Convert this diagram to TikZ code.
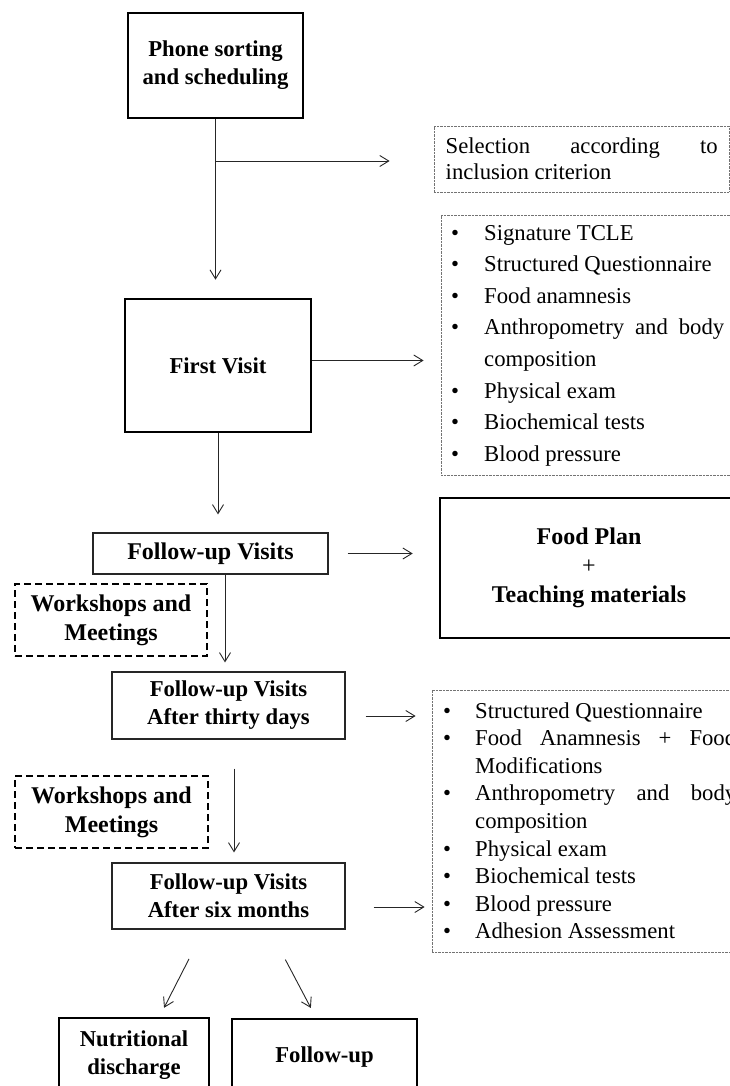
\documentclass[tikz,border=0pt]{standalone}
\usepackage{fontspec}
\setmainfont{Liberation Serif}
\usetikzlibrary{arrows.meta}

\tikzset{
  heavybox/.style={draw, line width=2.6pt, align=center, inner sep=0pt,
    font=\bfseries\fontsize{22.7}{28}\selectfont},
  thinbox/.style={draw=black!85, line width=1.1pt, align=center, inner sep=0pt,
    font=\bfseries\fontsize{22.7}{28}\selectfont},
  dashbox/.style={draw, line width=2.4pt, dash pattern=on 7pt off 4pt, align=center,
    inner sep=0pt, font=\bfseries\fontsize{24}{29}\selectfont},
  dotbox/.style={draw=black!55, line width=0.8pt, dash pattern=on 0.8pt off 0.6pt, inner sep=0pt},
  listline/.style={anchor=base west, inner sep=0pt, font=\fontsize{22.7}{27}\selectfont},
  flow/.style={->, line width=0.9pt, draw=black!85}
}

\begin{document}
\begin{tikzpicture}[x=1pt, y=-1pt, >={Straight Barb[length=9pt,width=11pt]}]
  \useasboundingbox (0,0) rectangle (730,1086);
  \clip (0,0) rectangle (730,1086);

  % main column
  \node[heavybox, minimum width=175pt, minimum height=105pt] (phone) at (215.5,65.5) {Phone sorting\\and scheduling};
  \node[heavybox, minimum width=186pt, minimum height=133pt] (first) at (218,365.5) {First Visit};
  \node[thinbox, minimum width=235pt, minimum height=41pt, font=\bfseries\fontsize{24}{28}\selectfont] (visits) at (210.5,553.5) {Follow-up Visits};
  \node[dashbox, minimum width=192pt, minimum height=72pt] (wsa) at (111,620) {Workshops and\\Meetings};
  \node[thinbox, minimum width=233pt, minimum height=67pt] (thirty) at (228.5,705.5) {Follow-up Visits\\After thirty days};
  \node[dashbox, minimum width=193pt, minimum height=72pt] (wsb) at (111.5,812) {Workshops and\\Meetings};
  \node[thinbox, minimum width=233pt, minimum height=66pt] (six) at (228.5,896) {Follow-up Visits\\After six months};
  \node[heavybox, minimum width=150pt, minimum height=74pt] (discharge) at (134,1055) {Nutritional\\discharge};
  \node[heavybox, minimum width=185pt, minimum height=76pt] (keep) at (324.5,1057) {Follow-up};

  % right column
  \node[dotbox, minimum width=295pt, minimum height=66pt] (sel) at (581.5,159) {};
  \node[listline] (sela) at (445.5,154) {\makebox[272pt][s]{Selection according to}};
  \node[listline] (selb) at (445.5,180) {inclusion criterion};

  \node[dotbox, minimum width=310pt, minimum height=260pt] (examsa) at (596,345) {};
  \foreach \b/\txt [count=\k from 0] in {1/Signature TCLE, 1/Structured Questionnaire,
      1/Food anamnesis, 1/\makebox[240pt][s]{Anthropometry and body}, 0/composition,
      1/Physical exam, 1/Biochemical tests, 1/Blood pressure}
  {
    \node[listline] (ta\k) at (484,{240+31.6*\k}) {\txt};
    \ifnum\b=1 \node[listline] (da\k) at (451,{240+31.6*\k}) {\textbullet}; \fi
  }

  \node[heavybox, minimum width=298pt, minimum height=140pt, font=\bfseries\fontsize{24}{29}\selectfont] (plan) at (589,568)
    {Food Plan\\{\mdseries +}\\Teaching materials};

  \node[dotbox, minimum width=320pt, minimum height=262pt] (examsb) at (592,821) {};
  \foreach \b/\txt [count=\k from 0] in {1/Structured Questionnaire,
      1/\makebox[261pt][s]{Food Anamnesis + Food}, 0/Modifications,
      1/\makebox[261pt][s]{Anthropometry and body}, 0/composition,
      1/Physical exam, 1/Biochemical tests, 1/Blood pressure, 1/Adhesion Assessment}
  {
    \node[listline] (tb\k) at (475,{718+27.6*\k}) {\txt};
    \ifnum\b=1 \node[listline] (db\k) at (443,{718+27.6*\k}) {\textbullet}; \fi
  }

  % connectors
  \draw[flow, shorten >=18pt] (phone.south) -- (phone.south |- first.north);
  \coordinate (fork) at (215.5,161);
  \draw[flow, shorten >=44pt] (fork) -- (fork -| sel.west);
  \draw[flow, shorten >=17pt] ([yshift=5pt]first.east) -- ([yshift=5pt]first.east -| examsa.west);
  \draw[flow, shorten >=18pt] (first.south) -- (first.south |- visits.north);
  \draw[flow, shorten <=19pt, shorten >=26pt] (visits.east) -- (visits.east -| plan.west);
  \draw[flow, shorten >=9pt] ([xshift=14.5pt]visits.south) -- ([xshift=14.5pt]visits.south |- thirty.north);
  \draw[flow, shorten <=20pt, shorten >=16pt] ([yshift=-10.5pt]thirty.east) -- ([yshift=-10.5pt]thirty.east -| examsb.west);
  \draw[flow, shorten <=29pt, shorten >=10pt] ([xshift=5.5pt]thirty.south) -- ([xshift=5.5pt]thirty.south |- six.north);
  \draw[flow, shorten <=28pt, shorten >=7pt] ([yshift=-11pt]six.east) -- ([yshift=-11pt]six.east -| examsb.west);
  \draw[flow, shorten <=33pt, shorten >=10pt] ([xshift=-24.5pt]six.south) -- ([xshift=25.5pt]discharge.north);
  \draw[flow, shorten <=34pt, shorten >=11pt] ([xshift=41pt]six.south) -- ([xshift=-8.5pt]keep.north);
\end{tikzpicture}
\end{document}
